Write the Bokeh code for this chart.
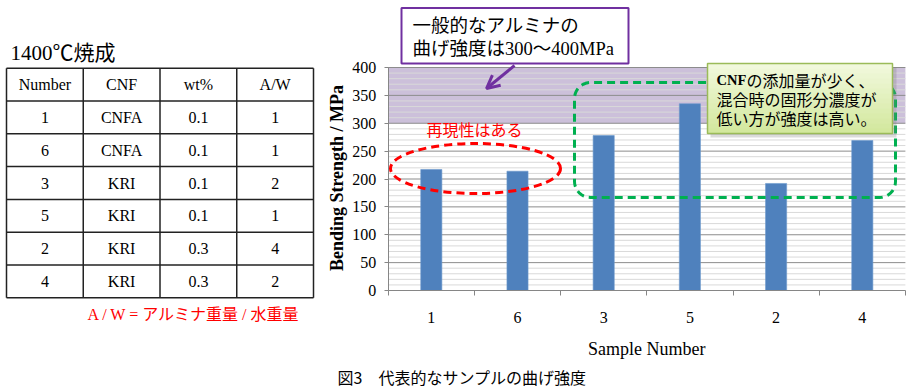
import math
from bokeh.plotting import figure
from bokeh.models import Range1d, LinearAxis, FixedTicker, Arrow, OpenHead
from bokeh.embed import file_html
from bokeh.resources import INLINE
from bokeh.core.properties import value

# ---------------- data ----------------
samples = ["1", "6", "3", "5", "2", "4"]
strength = [217, 214, 278, 335, 192, 269]

table_header = ["Number", "CNF", "wt%", "A/W"]
table_number = ["1", "6", "3", "5", "2", "4"]
table_cnf = ["CNFA", "CNFA", "KRI", "KRI", "KRI", "KRI"]
table_wt = ["0.1", "0.1", "0.1", "0.1", "0.3", "0.3"]
table_aw = ["1", "1", "2", "1", "4", "2"]

y_ticks = [0, 50, 100, 150, 200, 250, 300, 350, 400]
y_minor = list(range(0, 401, 10))
band_low, band_high = 300, 400

table_title = "1400℃焼成"
table_note = "A / W = アルミナ重量 / 水重量"
y_label = "Bending Strength / MPa"
x_label = "Sample Number"
caption = "図3　代表的なサンプルの曲げ強度"
callout_top = ["一般的なアルミナの", "曲げ強度は300～400MPa"]
callout_green_bold = "CNF"
callout_green = ["の添加量が少く、", "混合時の固形分濃度が", "低い方が強度は高い。"]
red_note = "再現性はある"

# ---------------- styles ----------------
SERIF = "Liberation Serif"
MIX = "Liberation Serif, Noto Sans CJK JP"
SANS_JP = "Noto Sans CJK JP"
BAR = "#4F81BD"
AX = "#868686"
PURPLE = "#7030A0"
GREEN = "#00B050"
RED = "#FF0000"

W, H = 906, 390
RX0, RCW = 387.7, 86.2     # plot-left px and category width px
RY0, RPY = 290.0, 0.5575   # zero-line px and px per MPa


def dx(px):
    return (px - RX0) / RCW


def dy(py):
    return (RY0 - py) / RPY


p = figure(width=W, height=H, x_range=Range1d(dx(0), dx(W)), y_range=Range1d(dy(H), dy(0)),
           output_backend="svg", toolbar_location=None, min_border=0,
           x_axis_location=None, y_axis_location=None, outline_line_color=None)
p.grid.visible = False
p.extra_x_ranges = {"px": Range1d(0, W)}
p.extra_y_ranges = {"px": Range1d(H, 0)}
PX = dict(x_range_name="px", y_range_name="px")

n = len(samples)
centers = [i + 0.5 for i in range(n)]
edges = list(range(n + 1))

# ---------------- chart ----------------
p.quad(left=[0], right=[n], bottom=[band_low], top=[band_high], fill_color="#CCC0DA", line_color=None)

minor_only = [v for v in y_minor if v not in y_ticks]
p.segment(x0=[0] * len(minor_only), x1=[n] * len(minor_only), y0=minor_only, y1=minor_only,
          line_color="#D9D9D9", line_width=1)
major_lines = [v for v in y_ticks if v > 0]
p.segment(x0=[0] * len(major_lines), x1=[n] * len(major_lines), y0=major_lines, y1=major_lines,
          line_color="#8C8C8C", line_width=1)

p.vbar(x=centers, top=strength, bottom=0, width=0.245, fill_color=BAR,
       line_color="#6C98CC", line_width=0.6)

yax = LinearAxis(fixed_location=0, ticker=FixedTicker(ticks=y_ticks, minor_ticks=[]), bounds=(0, 400),
                 axis_line_color=AX, major_tick_line_color=AX, major_tick_in=0, major_tick_out=4,
                 minor_tick_line_color=None, major_label_standoff=8, major_label_text_font=SERIF,
                 major_label_text_font_size="16px", major_label_text_color="#000000")
p.add_layout(yax, "left")

xax = LinearAxis(fixed_location=0, ticker=FixedTicker(ticks=centers, minor_ticks=edges), bounds=(0, n),
                 major_label_overrides={c: s for c, s in zip(centers, samples)},
                 axis_line_color=AX, major_tick_line_color=None, major_tick_in=0, major_tick_out=0,
                 minor_tick_line_color=AX, minor_tick_in=0, minor_tick_out=5,
                 major_label_standoff=16, major_label_text_font=SERIF,
                 major_label_text_font_size="16px", major_label_text_color="#000000")
p.add_layout(xax, "below")

p.text(x=[dx(336)], y=[dy(177.5)], text=[y_label], angle=math.pi / 2,
       text_align="center", text_baseline="middle", text_font=value(SERIF),
       text_font_style="bold", text_font_size="18px", text_color="#000000")
p.text(x=[n / 2], y=[dy(348)], text=[x_label], text_align="center", text_baseline="middle",
       text_font=value(SERIF), text_font_size="18px", text_color="#000000")

# ---------------- table ----------------
t_left, t_right, t_top, t_bottom = 6.0, 313.0, 67.7, 297.3
rows = [table_header] + [list(r) for r in zip(table_number, table_cnf, table_wt, table_aw)]
nrow, ncol = len(rows), len(table_header)
cw = (t_right - t_left) / ncol
rh = (t_bottom - t_top) / nrow

tx, ty, tt = [], [], []
for r, cells in enumerate(rows):
    for c, s in enumerate(cells):
        tx.append(t_left + (c + 0.5) * cw)
        ty.append(t_top + (r + 0.5) * rh)
        tt.append(s)
p.text(x=tx, y=ty, text=tt, text_align="center", text_baseline="middle",
       text_font=value(SERIF), text_font_size="16px", text_color="#000000", **PX)

hy = [t_top + r * rh for r in range(nrow + 1)]
p.segment(x0=[t_left] * len(hy), y0=hy, x1=[t_right] * len(hy), y1=hy,
          line_color="#222222", line_width=1.5, **PX)
vx = [t_left + c * cw for c in range(ncol + 1)]
p.segment(x0=vx, y0=[t_top] * len(vx), x1=vx, y1=[t_bottom] * len(vx),
          line_color="#222222", line_width=1.5, **PX)

p.text(x=[10], y=[52], text=[table_title], text_align="left", text_baseline="middle",
       text_font=value(MIX), text_font_size="21px", text_color="#000000", **PX)
p.text(x=[87], y=[313.5], text=[table_note], text_align="left", text_baseline="middle",
       text_font=value(MIX), text_font_size="16px", text_color=RED, **PX)

# ---------------- annotations ----------------
# red dashed ellipse + note
p.ellipse(x=[dx(475)], y=[dy(168)], width=[170 / RCW], height=[50 / RPY],
          fill_color=None, line_color=RED, line_width=3, line_dash="8 5")
p.text(x=[474], y=[128], text=[red_note], text_align="center", text_baseline="middle",
       text_font=value(SANS_JP), text_font_size="16px", text_color=RED, **PX)


def rrect(x0, y0, x1, y1, r, k=10):
    pts = []
    corners = [(x1 - r, y0 + r, -90, 0), (x1 - r, y1 - r, 0, 90),
               (x0 + r, y1 - r, 90, 180), (x0 + r, y0 + r, 180, 270)]
    for cx, cy, a0, a1 in corners:
        for i in range(k + 1):
            a = math.radians(a0 + (a1 - a0) * i / k)
            pts.append((cx + r * math.cos(a), cy + r * math.sin(a)))
    pts.append(pts[0])
    return [q[0] for q in pts], [q[1] for q in pts]


# green dashed rounded rectangle
gx, gy = rrect(574, 82, 895, 197, 16)
p.line(gx, gy, line_color=GREEN, line_width=3, line_dash="8 5", **PX)

# green callout box with soft shadow and vertical gradient
bl, br, bt, bb = 707, 892, 63, 133
p.quad(left=[bl + 3], right=[br + 4], top=[bt + 4], bottom=[bb + 4],
       fill_color="#7F7F7F", fill_alpha=0.28, line_color=None, **PX)
ns = 14
c0, c1 = (0xF1, 0xF8, 0xDC), (0xD3, 0xE8, 0x9E)
sl, sr, st, sb, sc = [], [], [], [], []
for k in range(ns):
    f = k / (ns - 1)
    sl.append(bl)
    sr.append(br)
    st.append(bt + k * (bb - bt) / ns)
    sb.append(bt + (k + 1) * (bb - bt) / ns + 0.5)
    sc.append("#%02X%02X%02X" % tuple(round(a + (b - a) * f) for a, b in zip(c0, c1)))
p.quad(left=sl, right=sr, top=st, bottom=sb, fill_color=sc, line_color=None, **PX)
p.quad(left=[bl], right=[br], top=[bt], bottom=[bb], fill_color=None,
       line_color="#9BBB59", line_width=1.5, **PX)
p.text(x=[716], y=[79], text=[callout_green_bold], text_align="left", text_baseline="middle",
       text_font=value(SERIF), text_font_style="bold", text_font_size="14.5px",
       text_color="#000000", **PX)
p.text(x=[746, 716, 716], y=[79, 98, 117], text=callout_green,
       text_align="left", text_baseline="middle",
       text_font=value(SANS_JP), text_font_size="16px", text_color="#000000", **PX)

# purple callout box + arrow
p.quad(left=[401], right=[628], top=[7.5], bottom=[63],
       fill_color="#FFFFFF", line_color=PURPLE, line_width=2, **PX)
p.text(x=[412, 412], y=[25, 48], text=callout_top, text_align="left", text_baseline="middle",
       text_font=value(MIX), text_font_size="18.5px", text_color="#000000", **PX)
p.add_layout(Arrow(end=OpenHead(size=13, line_color=PURPLE, line_width=3),
                   x_start=dx(514), y_start=dy(65), x_end=dx(486), y_end=dy(88),
                   line_color=PURPLE, line_width=3))

# caption
p.text(x=[337], y=[376.5], text=[caption], text_align="left", text_baseline="middle",
       text_font=value(SANS_JP), text_font_size="16px", text_color="#000000", **PX)

open("out.html", "w").write(file_html(p, INLINE))
